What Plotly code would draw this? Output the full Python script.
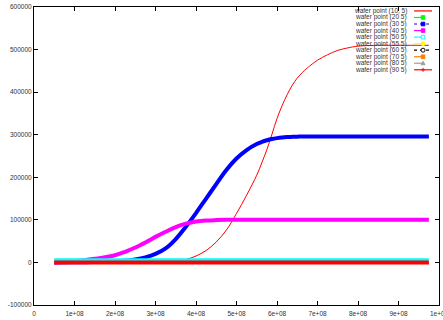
import plotly.graph_objects as go

# ---- data (x in units of 1e8) ----
x_e8 = [0.5, 1.0, 1.5, 2.0, 2.25, 2.5, 2.75, 3.0, 3.25, 3.5, 3.75, 4.0, 4.25, 4.5, 4.75,
        5.0, 5.25, 5.5, 5.625, 5.75, 5.875, 6.0, 6.125, 6.25, 6.375, 6.5, 6.625, 6.75,
        7.0, 7.25, 7.5, 7.75, 8.0, 8.5, 9.0, 9.75]

wp_10 = [0, 0, 0, 0, 0, 0, 0, 300, 1200, 3000, 7000, 15000, 28000, 48000, 76000,
         115000, 158000, 205000, 234000, 265000, 301000, 338000, 368000, 394000, 416000,
         433000, 446000, 457000, 475000, 488000, 498000, 504000, 508000, 510000, 510000, 510000]
wp_20 = [0] * len(x_e8)
wp_30 = [0, 500, 1000, 2500, 4000, 7000, 12000, 20000, 33000, 55000, 84000, 116000, 150000,
         184000, 217000, 244000, 264000, 278000, 283000, 287000, 290000, 292000, 293500,
         294500, 295000, 295500, 296000, 296000, 296000, 296000, 296000, 296000, 296000,
         296000, 296000, 296000]
wp_40 = [0, 2500, 8500, 17000, 25000, 35000, 47000, 60000, 72000, 83000, 91000, 96000, 98500,
         99500, 100000, 100000, 100000, 100000, 100000, 100000, 100000, 100000, 100000,
         100000, 100000, 100000, 100000, 100000, 100000, 100000, 100000, 100000, 100000,
         100000, 100000, 100000]
wp_50 = [6000] * len(x_e8)
wp_55 = [0] * len(x_e8)
wp_60 = [0] * len(x_e8)
wp_70 = [0] * len(x_e8)
wp_80 = [0] * len(x_e8)
wp_90 = [0] * len(x_e8)

labels = ["wafer point (10, 5)", "wafer point (20 5)", "wafer point (30 5)", "wafer point (40 5)",
          "wafer point (50 5)", "wafer point (55 5)", "wafer point (60 5)", "wafer point (70 5)",
          "wafer point (80 5)", "wafer point (90 5)"]
series = [wp_10, wp_20, wp_30, wp_40, wp_50, wp_55, wp_60, wp_70, wp_80, wp_90]

x_tickvals = [i * 1e8 for i in range(11)]
x_ticktext = ["0", "1e+08", "2e+08", "3e+08", "4e+08", "5e+08", "6e+08", "7e+08", "8e+08", "9e+08", "1e+09"]
y_tickvals = [-100000, 0, 100000, 200000, 300000, 400000, 500000, 600000]
y_ticktext = ["-100000", "0", "100000", "200000", "300000", "400000", "500000", "600000"]

# ---- styles ----
colors = ["#ff0000", "#00ff00", "#0000ff", "#ff00ff", "#00ffff", "#ffff00", "#000000",
          "#ff8000", "#a0a0a0", "#ff0000"]
widths = [1, 1.5, 4, 4, 3, 1.5, 1.5, 1.5, 1.5, 4]
legend_dash = ["solid", "dash", "dot", "dash", "dash", "dash", "dot", "dash", "dash", "solid"]
legend_marker = [None, "rect", "rect", "rect", "orect", "circle", "ocircle", "rect", "tri", "plus"]

W, H = 443, 320
ML, MR, MT, MB = 34, 3, 6, 11
PW, PH = W - ML - MR, H - MT - MB

fig = go.Figure()
xs = [v * 1e8 for v in x_e8]
for lab, ys, c, w in zip(labels, series, colors, widths):
    fig.add_trace(go.Scatter(x=xs, y=ys, mode="lines", name=lab,
                             line=dict(color=c, width=w, shape="spline", smoothing=1.0),
                             showlegend=False))

def px_x(p):
    return (p - ML) / PW

def px_y(p):
    return 1 - (p - MT) / PH

shapes = []
annotations = []
font = dict(family="Liberation Sans, Arial, sans-serif", size=6.5, color="#333333")
for i, lab in enumerate(labels):
    yp = 10 + 6.65 * i
    annotations.append(dict(x=px_x(410), y=px_y(yp), xref="paper", yref="paper",
                            text=lab, showarrow=False, xanchor="right", yanchor="middle",
                            font=font))
    shapes.append(dict(type="line", xref="paper", yref="paper",
                       x0=px_x(415), x1=px_x(433), y0=px_y(yp), y1=px_y(yp),
                       line=dict(color=colors[i], width=1.2, dash=legend_dash[i])))
    m = legend_marker[i]
    if m:
        cx, cy = px_x(424), px_y(yp)
        base = dict(xref="paper", yref="paper", xsizemode="pixel", ysizemode="pixel",
                    xanchor=cx, yanchor=cy)
        if m in ("rect", "orect"):
            shapes.append(dict(base, type="rect", x0=-1.8, x1=1.8, y0=-1.8, y1=1.8,
                               line=dict(color=colors[i], width=1),
                               fillcolor=colors[i] if m == "rect" else "white"))
        elif m in ("circle", "ocircle"):
            shapes.append(dict(base, type="circle", x0=-2, x1=2, y0=-2, y1=2,
                               line=dict(color=colors[i], width=1),
                               fillcolor=colors[i] if m == "circle" else "white"))
        elif m == "tri":
            shapes.append(dict(base, type="path", path="M -2,-1.5 L 2,-1.5 L 0,2 Z",
                               line=dict(color=colors[i], width=1), fillcolor=colors[i]))
        elif m == "plus":
            shapes.append(dict(base, type="path", path="M -2,0 L 2,0 M 0,-2 L 0,2",
                               line=dict(color=colors[i], width=1)))

# last x tick label overflows the page edge (clipped), as in the reference
annotations.append(dict(x=x_tickvals[-1], y=0, xref="x", yref="paper", text=x_ticktext[-1],
                        showarrow=False, xanchor="center", yanchor="top", yshift=-3,
                        font=font))

axis_common = dict(showgrid=False, zeroline=False, showline=True, linecolor="black",
                   linewidth=1, ticks="inside", ticklen=4, tickwidth=1, tickcolor="black",
                   mirror="ticks", tickfont=font)

fig.update_layout(
    width=W, height=H,
    margin=dict(l=ML, r=MR, t=MT, b=MB, pad=0),
    paper_bgcolor="white", plot_bgcolor="white",
    xaxis=dict(axis_common, range=[0, 1e9], tickmode="array", tickvals=x_tickvals[:-1],
               ticktext=x_ticktext[:-1], ticklabelstandoff=2),
    yaxis=dict(axis_common, range=[-100000, 600000], tickmode="array", tickvals=y_tickvals,
               ticktext=y_ticktext),
    shapes=shapes, annotations=annotations, showlegend=False,
)

fig.write_html("out.html")
